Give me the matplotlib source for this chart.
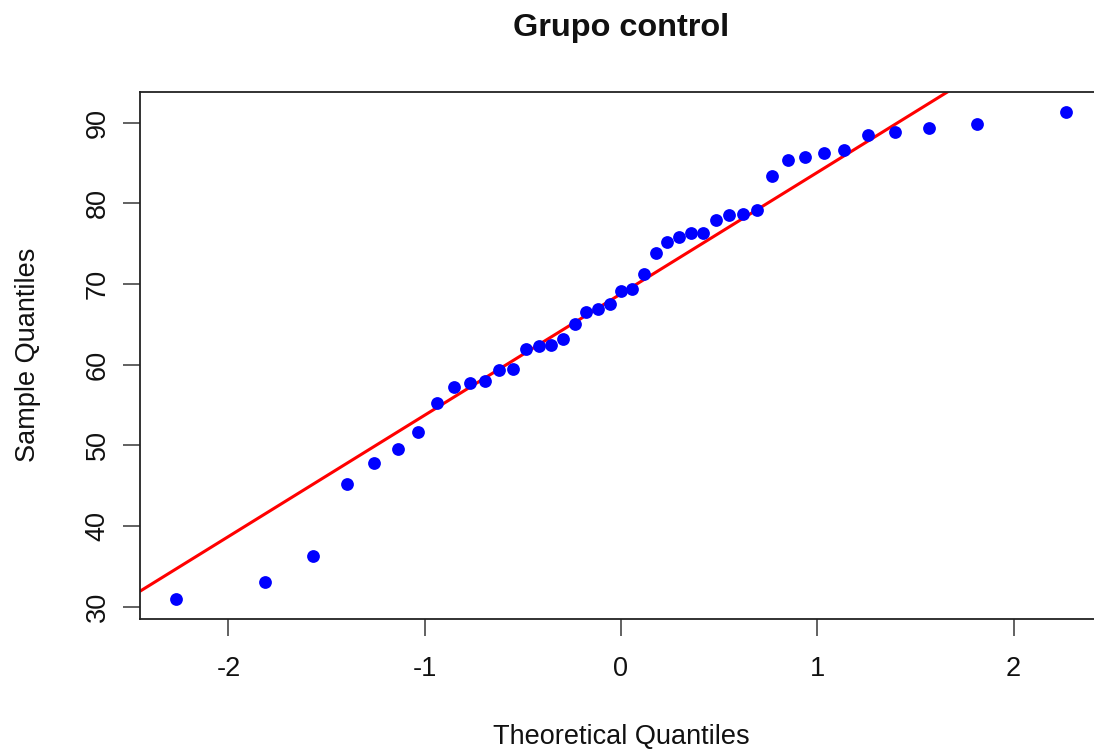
import matplotlib
matplotlib.use("Agg")
import matplotlib.pyplot as plt
import numpy as np

plt.rcParams['font.family'] = ['Liberation Sans', 'DejaVu Sans']

# theoretical normal quantiles, ppoints(43)
theoretical = [
    -2.269, -1.814, -1.571, -1.396, -1.256, -1.136, -1.032, -0.937, -0.850,
    -0.769, -0.693, -0.621, -0.551, -0.485, -0.420, -0.357, -0.296, -0.235,
    -0.176, -0.117, -0.058, 0.0,
    0.058, 0.117, 0.176, 0.235, 0.296, 0.357, 0.420, 0.485, 0.551, 0.621,
    0.693, 0.769, 0.850, 0.937, 1.032, 1.136, 1.256, 1.396, 1.571, 1.814,
    2.269,
]

# sorted sample values (grupo control)
sample = [
    30.9, 33.1, 36.3, 45.2, 47.8, 49.5, 51.7, 55.2, 57.3, 57.8,
    58.0, 59.3, 59.5, 61.9, 62.3, 62.4, 63.2, 65.0, 66.6, 66.9,
    67.5, 69.1, 69.4, 71.2, 73.8, 75.2, 75.8, 76.3, 76.4, 78.0,
    78.6, 78.7, 79.2, 83.4, 85.4, 85.7, 86.3, 86.6, 88.5, 88.9,
    89.3, 89.8, 91.4,
]

x_ticks = [-2, -1, 0, 1, 2]
y_ticks = [30, 40, 50, 60, 70, 80, 90]

x = np.array(theoretical)
y = np.array(sample)

# qqline: through the first and third quartiles
q1, q3 = np.percentile(y, [25, 75])
z1, z3 = -0.6745, 0.6745
slope = (q3 - q1) / (z3 - z1)
intercept = q1 - slope * z1

fig = plt.figure(figsize=(10.94, 7.51), dpi=100)
ax = fig.add_axes([140 / 1094, 1 - 619 / 751, (1102 - 140) / 1094, (619 - 92) / 751])

ax.plot(x, y, 'o', color='#0000FF', markersize=9.2, markeredgewidth=0, zorder=3)
ax.axline((0, intercept), slope=slope, color='#FF0000', linewidth=2.2, zorder=2)

xpad = 0.04 * (x.max() - x.min())
ypad = 0.04 * (y.max() - y.min())
ax.set_xlim(x.min() - xpad, x.max() + xpad)
ax.set_ylim(y.min() - ypad, y.max() + ypad)

ax.set_xticks(x_ticks)
ax.set_xticklabels([str(t) for t in x_ticks])
ax.set_yticks(y_ticks)
ax.set_yticklabels([str(t) for t in y_ticks], rotation=90, va='center')

for sp in ax.spines.values():
    sp.set_color('#222222')
    sp.set_linewidth(1.3)

ax.tick_params(axis='both', length=12, width=1.3, color='#555555',
               labelsize=19.5, labelcolor='#111111')
ax.tick_params(axis='x', pad=15)
ax.tick_params(axis='y', pad=9)

fig.text(621 / 1094, 1 - 28 / 751, 'Grupo control', ha='center', va='center',
         fontsize=23.4, fontweight='bold', color='#111111')
fig.text(621 / 1094, 1 - 737 / 751, 'Theoretical Quantiles', ha='center',
         va='center', fontsize=19.5, color='#111111')
fig.text(28 / 1094, 1 - 355 / 751, 'Sample Quantiles', ha='center',
         va='center', rotation=90, fontsize=19.5, color='#111111')

fig.savefig('out.png', dpi=100)
